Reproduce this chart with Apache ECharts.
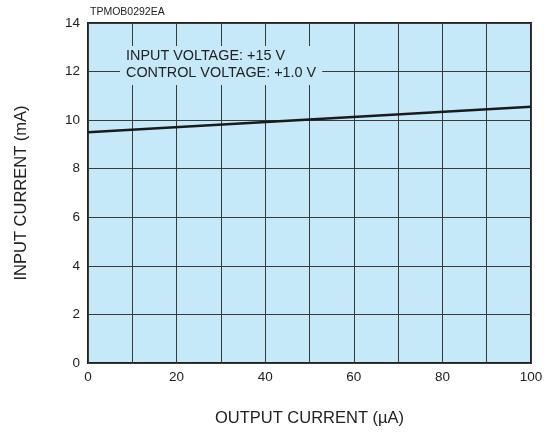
<!DOCTYPE html>
<html>
<head>
<meta charset="utf-8">
<script src="https://cdn.jsdelivr.net/npm/echarts@6/dist/echarts.min.js"></script>
<style>
  html, body { margin: 0; padding: 0; background: #fff; }
  #chart { width: 550px; height: 432px; }
</style>
</head>
<body>
<div id="chart"></div>
<script>
const outputCurrent = [0, 100];
const inputCurrent = [9.5, 10.55];
const xTickLabels = [0, 20, 40, 60, 80, 100];
const yTickLabels = [0, 2, 4, 6, 8, 10, 12, 14];

const plotBlue = '#c6e9f9';
const font = 'Liberation Sans, Arial, sans-serif';

var chart = echarts.init(document.getElementById('chart'));
var option = {
  animation: false,
  grid: {
    left: 88,
    right: 19,
    top: 23,
    bottom: 69,
    show: true,
    backgroundColor: plotBlue,
    borderColor: '#222',
    borderWidth: 2
  },
  xAxis: {
    type: 'value',
    min: 0,
    max: 100,
    interval: 10,
    name: 'OUTPUT CURRENT (\u00b5A)',
    nameLocation: 'middle',
    nameGap: 47,
    nameTextStyle: { fontFamily: font, fontSize: 16.5, color: '#222' },
    axisLine: { show: false },
    axisTick: { show: false },
    axisLabel: {
      fontFamily: font, fontSize: 13.5, color: '#222', margin: 7,
      formatter: function (v) { return xTickLabels.indexOf(v) >= 0 ? String(v) : ''; }
    },
    splitLine: { lineStyle: { color: '#3a3a3a', width: 1 } }
  },
  yAxis: {
    type: 'value',
    min: 0,
    max: 14,
    interval: 2,
    name: 'INPUT CURRENT (mA)',
    nameLocation: 'middle',
    nameGap: 58,
    nameTextStyle: { fontFamily: font, fontSize: 16.5, color: '#222' },
    axisLine: { show: false },
    axisTick: { show: false },
    axisLabel: {
      fontFamily: font, fontSize: 13.5, color: '#222', margin: 8,
      formatter: function (v) { return yTickLabels.indexOf(v) >= 0 ? String(v) : ''; }
    },
    splitLine: { lineStyle: { color: '#3a3a3a', width: 1 } }
  },
  graphic: [
    {
      type: 'text',
      left: 90,
      top: 7,
      style: { text: 'TPMOB0292EA', font: '10.5px ' + font, fill: '#222' }
    },
    {
      type: 'text',
      left: 120,
      top: 46,
      z: 10,
      style: {
        text: 'INPUT VOLTAGE: +15 V\nCONTROL VOLTAGE: +1.0 V',
        font: '14.4px ' + font,
        fill: '#222',
        lineHeight: 17,
        backgroundColor: plotBlue,
        padding: [2, 6, 3, 6]
      }
    }
  ],
  series: [
    {
      type: 'line',
      data: outputCurrent.map(function (x, i) { return [x, inputCurrent[i]]; }),
      showSymbol: false,
      lineStyle: { color: '#1a1a1a', width: 2.5 },
      z: 5
    }
  ]
};
chart.setOption(option);
</script>
</body>
</html>
